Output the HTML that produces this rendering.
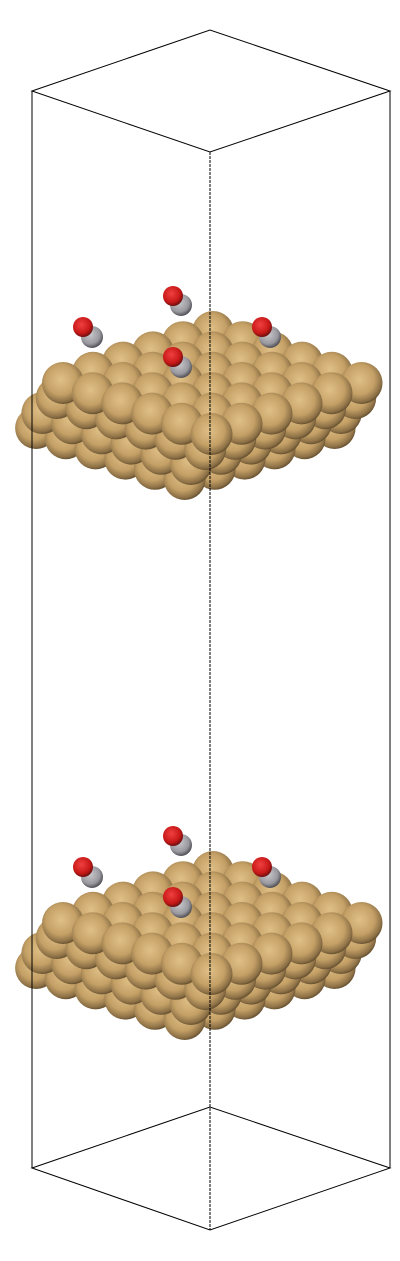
<!DOCTYPE html>
<html><head><meta charset="utf-8"><style>
html,body{margin:0;padding:0;background:#fff;}
svg{display:block;}
</style></head><body>
<svg id="scene" width="400" height="1261" viewBox="0 0 400 1261" xmlns="http://www.w3.org/2000/svg">
<defs>
<radialGradient id="cu" cx="0.45" cy="0.42" r="0.6">
<stop offset="0" stop-color="#e0c087"/><stop offset="0.6" stop-color="#c4a066"/><stop offset="0.88" stop-color="#8c7046"/><stop offset="1" stop-color="#5c482a"/>
</radialGradient>
<radialGradient id="ox" cx="0.42" cy="0.38" r="0.62">
<stop offset="0" stop-color="#f04040"/><stop offset="0.7" stop-color="#c81818"/><stop offset="1" stop-color="#701010"/>
</radialGradient>
<radialGradient id="ca" cx="0.42" cy="0.38" r="0.62">
<stop offset="0" stop-color="#c8c8cc"/><stop offset="0.7" stop-color="#98989e"/><stop offset="1" stop-color="#505056"/>
</radialGradient>
</defs>
<g id="atoms"></g>
<g id="box" stroke="#000" stroke-width="1" fill="none">
<path d="M32 91 L210 30 L390 91 L210 152 Z"/>
<path d="M32 1168 L210 1107 L390 1168 L210 1230 Z"/>
<line x1="32" y1="91" x2="32" y2="1168"/>
<line x1="390" y1="91" x2="390" y2="1168"/>
<line x1="210" y1="152" x2="210" y2="1230" stroke-dasharray="3 1"/>
</g>
</svg>
<script>
const slabOffsets = [0, 540];
const layerCount = 4;
const cellSize = 6;
const coSites = [[83,327,92,337],[173,296,181,305],[262,327,270,337],[173,357,181,367]];
const ns = 'http://www.w3.org/2000/svg';
const g = document.getElementById('atoms');
const list = [];
slabOffsets.forEach((off, s) => {
  for (let L = 0; L < layerCount; L++) {
    const d = layerCount - 1 - L;
    const ox = 63 - d * 10.3 + (d % 2) * 4;
    const oy = 383 + d * 15 + off;
    for (let i = 0; i < cellSize; i++) for (let j = 0; j < cellSize; j++) {
      const y = oy + i * 10.2 - j * 10.2;
      list.push({x: ox + i * 29.7 + j * 30, y: y, r: 21, f: 'url(#cu)', n: 'copper-atom', z: L * 1000 + y});
    }
  }
  coSites.forEach(c => {
    list.push({x: c[2], y: c[3] + off, r: 11, f: 'url(#ca)', n: 'carbon-atom', z: 90000 + c[3]});
    list.push({x: c[0], y: c[1] + off, r: 10, f: 'url(#ox)', n: 'oxygen-atom', z: 90001 + c[3]});
  });
});
list.sort((a, b) => a.z - b.z);
list.forEach(a => {
  const c = document.createElementNS(ns, 'circle');
  c.setAttribute('cx', a.x); c.setAttribute('cy', a.y); c.setAttribute('r', a.r);
  c.setAttribute('fill', a.f);
  
  
  g.appendChild(c);
});
</script>
</body></html>
